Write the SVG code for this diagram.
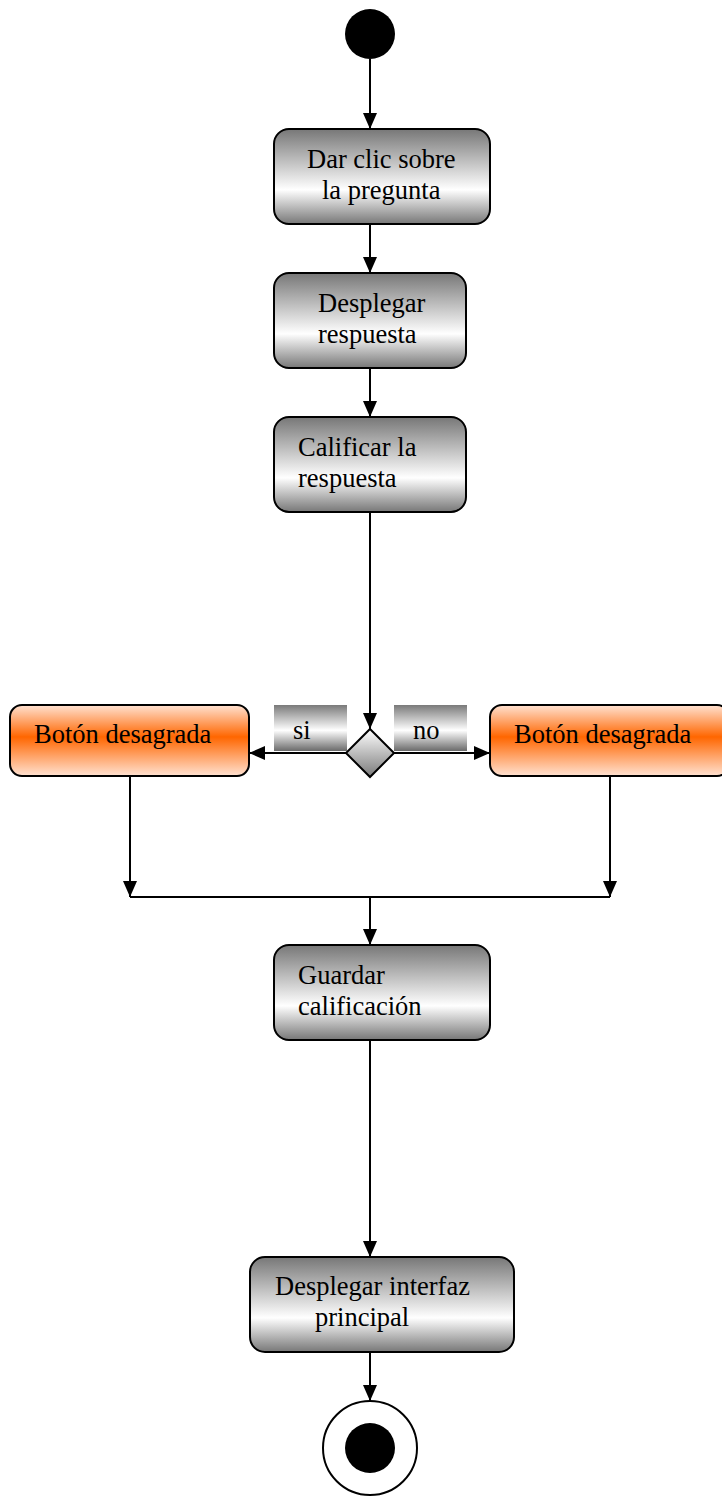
<svg xmlns="http://www.w3.org/2000/svg" width="722" height="1497" viewBox="0 0 722 1497">
  <defs>
    <linearGradient id="gGray" x1="0" y1="0" x2="0" y2="1">
      <stop offset="0" stop-color="#777777"/>
      <stop offset="0.64" stop-color="#ffffff"/>
      <stop offset="1" stop-color="#777777"/>
    </linearGradient>
    <linearGradient id="gOrange" x1="0" y1="0" x2="0" y2="1">
      <stop offset="0" stop-color="#ffe2d2"/>
      <stop offset="0.45" stop-color="#ff6600"/>
      <stop offset="1" stop-color="#ffe2d2"/>
    </linearGradient>
    <linearGradient id="gLabel" x1="0" y1="0" x2="0" y2="1">
      <stop offset="0" stop-color="#7a7a7a"/>
      <stop offset="0.55" stop-color="#ffffff"/>
      <stop offset="1" stop-color="#6a6a6a"/>
    </linearGradient>
    <linearGradient id="gDiamond" x1="0" y1="0" x2="0" y2="1">
      <stop offset="0" stop-color="#ffffff"/>
      <stop offset="1" stop-color="#7a7a7a"/>
    </linearGradient>
    <marker id="arrow" viewBox="0 0 16 14" refX="16" refY="7" markerWidth="16" markerHeight="14" markerUnits="userSpaceOnUse" orient="auto">
      <path d="M0,0 L16,7 L0,14 Z" fill="#000"/>
    </marker>
    <style>
      .act { fill: url(#gGray); stroke: #000; stroke-width: 2; }
      .btn { fill: url(#gOrange); stroke: #000; stroke-width: 2; }
      .lbl { fill: url(#gLabel); }
      .t { font-family: "Liberation Serif", "Times New Roman", serif; font-size: 26.5px; fill: #000; }
      .edge { fill: none; stroke: #000; stroke-width: 2; }
      .arr { marker-end: url(#arrow); }
    </style>
  </defs>

  <!-- connectors -->
  <g id="connectors">
    <line class="edge arr" x1="370" y1="59" x2="370" y2="129"/>
    <line class="edge arr" x1="370" y1="224" x2="370" y2="273"/>
    <line class="edge arr" x1="370" y1="368" x2="370" y2="417"/>
    <line class="edge arr" x1="370" y1="512" x2="370" y2="729"/>
    <line class="edge arr" x1="346" y1="753" x2="249" y2="753"/>
    <line class="edge arr" x1="394" y1="753" x2="490" y2="753"/>
    <line class="edge arr" x1="130" y1="776" x2="130" y2="897"/>
    <line class="edge arr" x1="610" y1="776" x2="610" y2="897"/>
    <line class="edge" x1="130" y1="897" x2="610" y2="897"/>
    <line class="edge arr" x1="370" y1="897" x2="370" y2="945"/>
    <line class="edge arr" x1="370" y1="1040" x2="370" y2="1257"/>
    <line class="edge arr" x1="370" y1="1352" x2="370" y2="1401"/>
  </g>

  <!-- start -->
  <g id="start">
    <circle cx="370" cy="34" r="25" fill="#000"/>
  </g>

  <g id="darClic">
    <rect class="act" x="274" y="129" width="216" height="95" rx="15"/>
    <text class="t" x="307" y="168">Dar clic sobre</text>
    <text class="t" x="322" y="199">la pregunta</text>
  </g>

  <g id="desplegarRespuesta">
    <rect class="act" x="274" y="273" width="192" height="95" rx="15"/>
    <text class="t" x="318" y="312">Desplegar</text>
    <text class="t" x="318" y="343">respuesta</text>
  </g>

  <g id="calificar">
    <rect class="act" x="274" y="417" width="192" height="95" rx="15"/>
    <text class="t" x="298" y="456">Calificar la</text>
    <text class="t" x="298" y="487">respuesta</text>
  </g>

  <g id="decision">
    <polygon points="370,729 394,753 370,777 346,753" fill="url(#gDiamond)" stroke="#000" stroke-width="2"/>
  </g>

  <g id="labelSi">
    <rect class="lbl" x="274" y="705" width="73" height="46"/>
    <text class="t" x="293" y="739">si</text>
  </g>

  <g id="labelNo">
    <rect class="lbl" x="394" y="705" width="73" height="46"/>
    <text class="t" x="413" y="739">no</text>
  </g>

  <g id="botonIzq">
    <rect class="btn" x="10" y="705" width="239" height="71" rx="12"/>
    <text class="t" x="34" y="743">Botón desagrada</text>
  </g>

  <g id="botonDer">
    <rect class="btn" x="490" y="705" width="239" height="71" rx="12"/>
    <text class="t" x="514" y="743">Botón desagrada</text>
  </g>

  <g id="guardar">
    <rect class="act" x="274" y="945" width="216" height="95" rx="15"/>
    <text class="t" x="298" y="984">Guardar</text>
    <text class="t" x="298" y="1015">calificación</text>
  </g>

  <g id="desplegarInterfaz">
    <rect class="act" x="250" y="1257" width="264" height="95" rx="15"/>
    <text class="t" x="275" y="1295">Desplegar interfaz</text>
    <text class="t" x="315" y="1326">principal</text>
  </g>

  <!-- end -->
  <g id="end">
    <circle cx="370" cy="1448" r="47" fill="#fff" stroke="#000" stroke-width="2"/>
    <circle cx="370" cy="1448" r="25" fill="#000"/>
  </g>
</svg>
